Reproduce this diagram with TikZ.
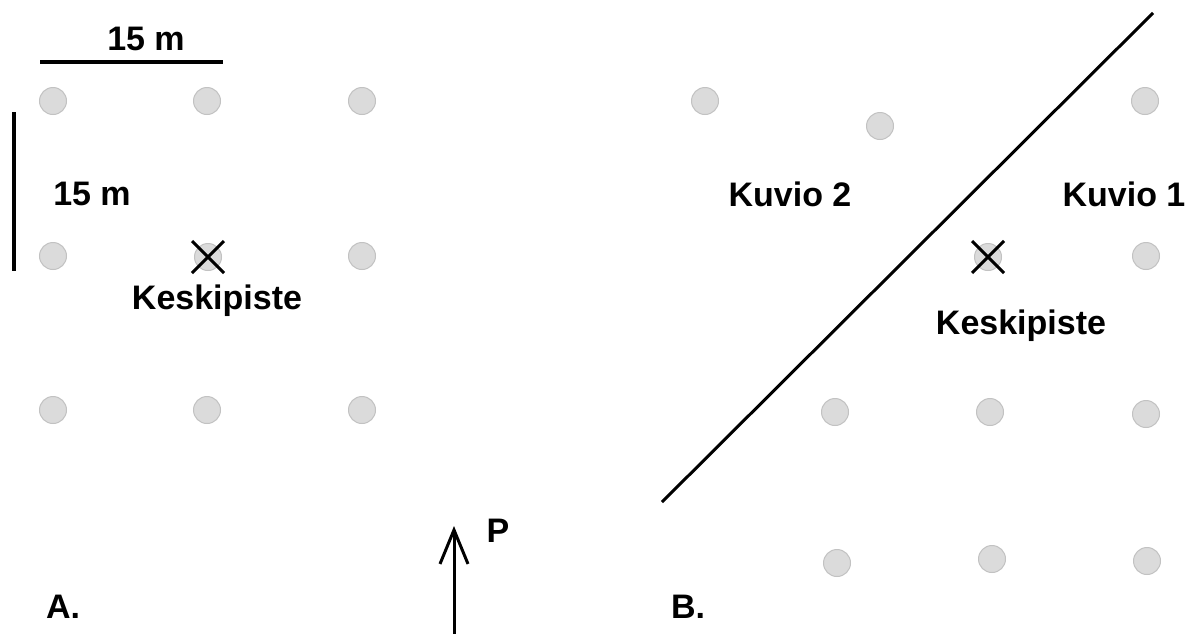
\documentclass[tikz,border=0pt]{standalone}
\usepackage{fontspec}
\setmainfont{Liberation Sans}
\usetikzlibrary{arrows.meta}
\tikzset{
  plot/.style={circle, inner sep=0pt, minimum size=27pt, fill=black!14, draw=black!24, line width=1pt},
  lbl/.style={font=\fontsize{34}{40}\selectfont\bfseries, inner sep=0pt, anchor=base},
  bar/.style={line width=3.2pt},
  cross/.style={line width=3pt},
}
\begin{document}
\begin{tikzpicture}[x=1pt,y=-1pt]
\useasboundingbox (0,0) rectangle (1200,633);
% ---- A ----
\node[plot] (a11) at (53,101) {};
\node[plot] (a12) at (207,101) {};
\node[plot] (a13) at (362,101) {};
\node[plot] (a21) at (53,256) {};
\node[plot] (a22) at (208,257) {};
\node[plot] (a23) at (362,256) {};
\node[plot] (a31) at (53,410) {};
\node[plot] (a32) at (207,410) {};
\node[plot] (a33) at (362,410) {};
\draw[cross] ([shift={(-16,-16)}]a22.center) -- ([shift={(16,16)}]a22.center)
             ([shift={(-16,16)}]a22.center) -- ([shift={(16,-16)}]a22.center);
\coordinate (hb1) at (40,62);
\coordinate (hb2) at (223,62);
\draw[bar] (hb1) -- (hb2);
\coordinate (vb1) at (14,112);
\coordinate (vb2) at (14,271);
\draw[bar] (vb1) -- (vb2);
\node[lbl] (h15) at (146,50) {15 m};
\node[lbl] (v15) at (92,205) {15 m};
\node[lbl] (ka) at (217,309) {Keskipiste};
\node[lbl] (la) at (63,618) {A.};
% arrow
\coordinate (p0) at (454,640);
\coordinate (p1) at (454,526);
\draw[line width=3pt, -{Straight Barb[length=34pt,width=28pt,line width=3pt]}] (p0) -- (p1);
\node[lbl] (pp) at (498,542) {P};
% ---- B ----
\coordinate (d1) at (662,502);
\coordinate (d2) at (1153,13);
\draw[line width=3pt] (d1) -- (d2);
\node[plot] (b1) at (705,101) {};
\node[plot] (b2) at (880,126) {};
\node[plot] (b3) at (1145,101) {};
\node[plot] (bx) at (988,257) {};
\node[plot] (b4) at (1146,256) {};
\node[plot] (b5) at (835,412) {};
\node[plot] (b6) at (990,412) {};
\node[plot] (b7) at (1146,414) {};
\node[plot] (b8) at (837,563) {};
\node[plot] (b9) at (992,559) {};
\node[plot] (b10) at (1147,561) {};
\draw[cross] ([shift={(-16,-16)}]bx.center) -- ([shift={(16,16)}]bx.center)
             ([shift={(-16,16)}]bx.center) -- ([shift={(16,-16)}]bx.center);
\node[lbl] (k2) at (790,206) {Kuvio 2};
\node[lbl] (k1) at (1124,206) {Kuvio 1};
\node[lbl] (kb) at (1021,334) {Keskipiste};
\node[lbl] (lb) at (688,618) {B.};
\end{tikzpicture}
\end{document}
